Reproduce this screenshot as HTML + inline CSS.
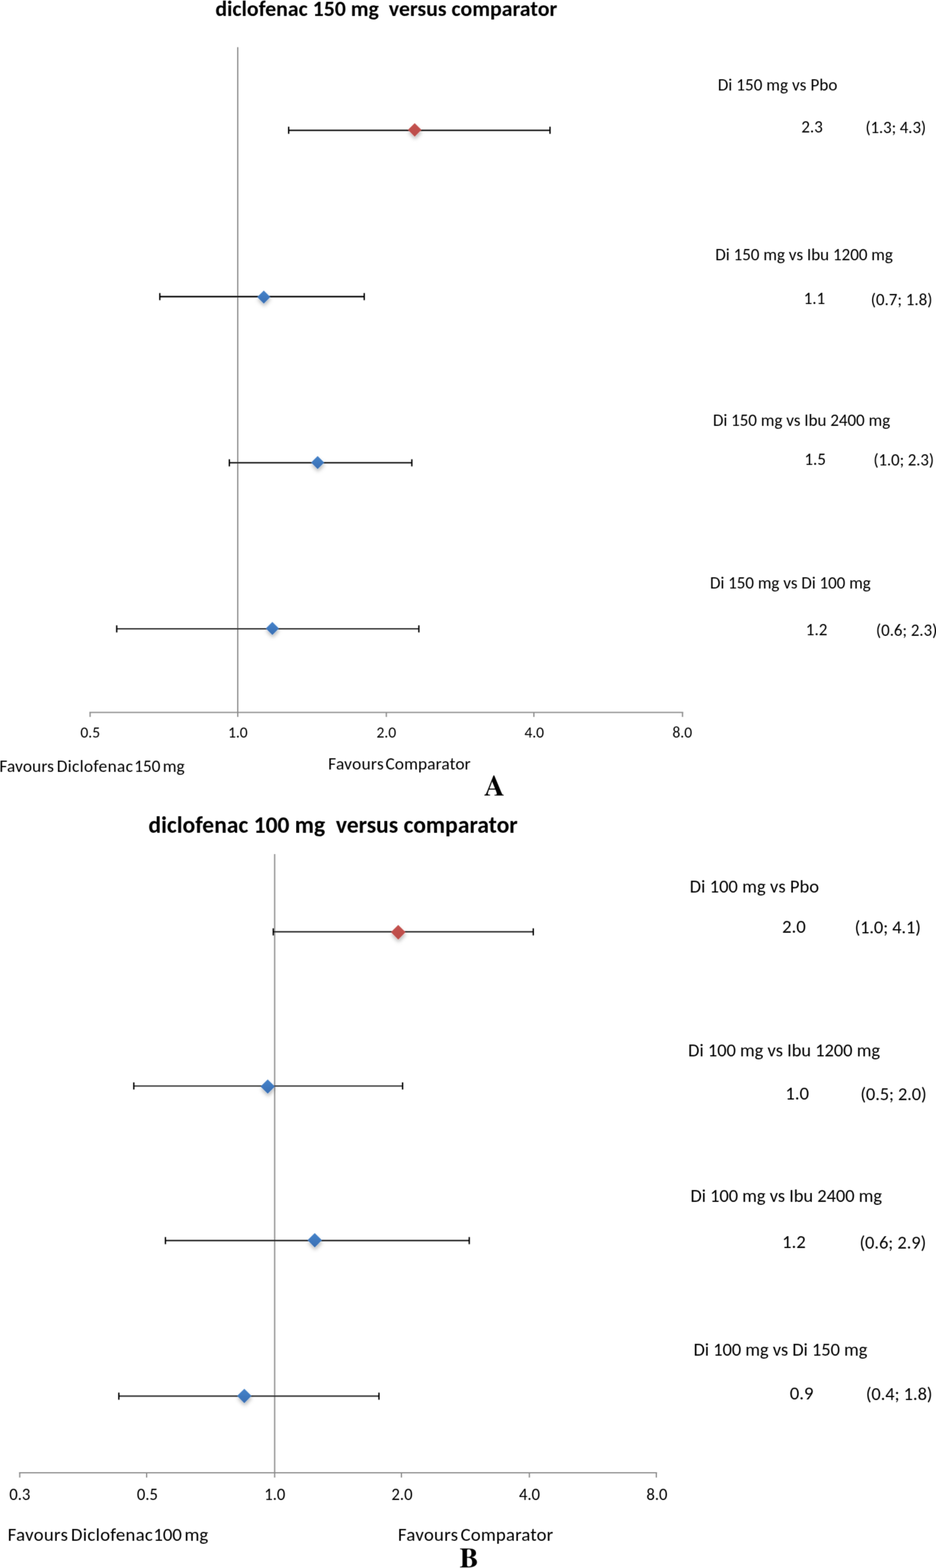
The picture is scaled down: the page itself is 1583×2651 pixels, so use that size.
<!DOCTYPE html>
<html><head><meta charset="utf-8"><title>Diclofenac forest plots</title>
<style>
html,body{margin:0;padding:0;background:#fff}
body{width:1583px;height:2651px;overflow:hidden;position:relative}
svg{display:block;position:absolute;left:0;top:0}
text{font-family:Carlito, "Liberation Sans", sans-serif;fill:#000}
.ttl{font-weight:bold}
.lab{font-family:"TeX Gyre Termes", "Liberation Serif", "Times New Roman", serif;font-weight:bold}
.ax{stroke:#8c8c8c;stroke-width:2.1}
.eb{stroke-width:2.3;fill:none}
.cap{stroke:#000;stroke-width:2.3;fill:none}
</style></head><body>
<svg width="1583" height="2651" viewBox="0 0 1583 2651">
<defs><filter id="soft" x="0" y="0" width="1583" height="2651" filterUnits="userSpaceOnUse"><feConvolveMatrix order="3" kernelMatrix="0.0225 0.105 0.0225 0.105 0.49 0.105 0.0225 0.105 0.0225" edgeMode="duplicate"/></filter><linearGradient id="gb" x1="0" y1="0" x2="0" y2="1"><stop offset="0" stop-color="#4683ca"/><stop offset="1" stop-color="#386eb3"/></linearGradient><linearGradient id="gr" x1="0" y1="0" x2="0" y2="1"><stop offset="0" stop-color="#c4524f"/><stop offset="1" stop-color="#bb4c49"/></linearGradient><filter id="sh" x="-60%" y="-60%" width="220%" height="240%"><feDropShadow dx="0.6" dy="4.4" stdDeviation="3" flood-color="#000" flood-opacity="0.27"/></filter></defs>
<rect width="1583" height="2651" fill="#fff"/>
<g filter="url(#soft)">
<line x1="402.1" y1="79.7" x2="402.1" y2="1204.5" class="ax"/>
<line x1="151.20000000000002" y1="1204.5" x2="1155.5" y2="1204.5" class="ax"/>
<line x1="152.4" y1="1204.5" x2="152.4" y2="1212.1" class="ax"/>
<line x1="402.1" y1="1204.5" x2="402.1" y2="1212.1" class="ax"/>
<line x1="653.4" y1="1204.5" x2="653.4" y2="1212.1" class="ax"/>
<line x1="902.9" y1="1204.5" x2="902.9" y2="1212.1" class="ax"/>
<line x1="1154.3" y1="1204.5" x2="1154.3" y2="1212.1" class="ax"/>
<path class="eb" stroke="#000" d="M488.2 220.3H930.2"/>
<path class="cap" d="M488.2 214.3V226.3M930.2 214.3V226.3"/>
<path class="eb" stroke="#000" d="M270.3 501.5H616.0"/>
<path class="cap" d="M270.3 495.5V507.5M616.0 495.5V507.5"/>
<path class="eb" stroke="#080808" d="M387.9 782.45H696.5"/>
<path class="cap" d="M387.9 776.45V788.45M696.5 776.45V788.45"/>
<path class="eb" stroke="#2a2a2a" d="M197.4 1063.2H708.4"/>
<path class="cap" d="M197.4 1057.2V1069.2M708.4 1057.2V1069.2"/>
<path d="M701.35 208.25L712.7 219.6L701.35 230.95L690.0 219.6Z" fill="url(#gr)" filter="url(#sh)"/>
<path d="M446.1 491.25L457.1 502.25L446.1 513.25L435.1 502.25Z" fill="url(#gb)" filter="url(#sh)"/>
<path d="M537.2 771.0L548.2 782.0L537.2 793.0L526.2 782.0Z" fill="url(#gb)" filter="url(#sh)"/>
<path d="M460.6 1051.6L471.6 1062.6L460.6 1073.6L449.6 1062.6Z" fill="url(#gb)" filter="url(#sh)"/>
<line x1="464.5" y1="1443.9" x2="464.5" y2="2490.0" class="ax"/>
<line x1="32.199999999999996" y1="2490.0" x2="1111.2" y2="2490.0" class="ax"/>
<line x1="33.4" y1="2490.0" x2="33.4" y2="2498.1" class="ax"/>
<line x1="248.0" y1="2490.0" x2="248.0" y2="2498.1" class="ax"/>
<line x1="464.5" y1="2490.0" x2="464.5" y2="2498.1" class="ax"/>
<line x1="678.9" y1="2490.0" x2="678.9" y2="2498.1" class="ax"/>
<line x1="895.3" y1="2490.0" x2="895.3" y2="2498.1" class="ax"/>
<line x1="1110.0" y1="2490.0" x2="1110.0" y2="2498.1" class="ax"/>
<path class="eb" stroke="#1a1a1a" d="M462.2 1575.4H901.9"/>
<path class="cap" d="M462.2 1569.4V1581.4M901.9 1569.4V1581.4"/>
<path class="eb" stroke="#383838" d="M226.3 1836.05H680.9"/>
<path class="cap" d="M226.3 1830.05V1842.05M680.9 1830.05V1842.05"/>
<path class="eb" stroke="#0c0c0c" d="M279.8 2097.4H793.6"/>
<path class="cap" d="M279.8 2091.4V2103.4M793.6 2091.4V2103.4"/>
<path class="eb" stroke="#202020" d="M201.0 2360.4H640.9"/>
<path class="cap" d="M201.0 2354.4V2366.4M640.9 2354.4V2366.4"/>
<path d="M673.5 1563.8L685.8 1576.1L673.5 1588.3999999999999L661.2 1576.1Z" fill="url(#gr)" filter="url(#sh)"/>
<path d="M452.8 1824.9L464.90000000000003 1837.0L452.8 1849.1L440.7 1837.0Z" fill="url(#gb)" filter="url(#sh)"/>
<path d="M532.3 2084.7000000000003L544.4 2096.8L532.3 2108.9L520.1999999999999 2096.8Z" fill="url(#gb)" filter="url(#sh)"/>
<path d="M413.2 2348.0L425.3 2360.1L413.2 2372.2L401.09999999999997 2360.1Z" fill="url(#gb)" filter="url(#sh)"/>
<text x="364.15" y="26.8" font-size="36.936" textLength="578.25" lengthAdjust="spacingAndGlyphs" class="ttl" xml:space="preserve">diclofenac 150 mg  versus comparator</text>
<text x="1213.99" y="153.2" font-size="28.800" letter-spacing="0.140" textLength="202.30" lengthAdjust="spacingAndGlyphs">Di 150 mg vs Pbo</text>
<text x="1355.26" y="223.8" font-size="28.700" textLength="36.33" lengthAdjust="spacingAndGlyphs">2.3</text>
<text x="1463.63" y="225.1" font-size="28.500" letter-spacing="-0.111" textLength="102.42" lengthAdjust="spacingAndGlyphs">(1.3; 4.3)</text>
<text x="1209.82" y="439.5" font-size="28.800" textLength="300.34" lengthAdjust="spacingAndGlyphs">Di 150 mg vs Ibu 1200 mg</text>
<text x="1359.14" y="514.4" font-size="28.700" textLength="36.33" lengthAdjust="spacingAndGlyphs">1.1</text>
<text x="1472.82" y="515.7" font-size="28.500" letter-spacing="0.067" textLength="104.20" lengthAdjust="spacingAndGlyphs">(0.7; 1.8)</text>
<text x="1205.72" y="719.8" font-size="28.800" letter-spacing="-0.026" textLength="299.72" lengthAdjust="spacingAndGlyphs">Di 150 mg vs Ibu 2400 mg</text>
<text x="1360.45" y="786.1" font-size="28.700" textLength="36.33" lengthAdjust="spacingAndGlyphs">1.5</text>
<text x="1477.24" y="787.4" font-size="28.500" letter-spacing="-0.133" textLength="102.20" lengthAdjust="spacingAndGlyphs">(1.0; 2.3)</text>
<text x="1200.72" y="995.2" font-size="28.800" letter-spacing="-0.029" textLength="271.91" lengthAdjust="spacingAndGlyphs">Di 150 mg vs Di 100 mg</text>
<text x="1362.85" y="1074.1" font-size="28.700" textLength="36.33" lengthAdjust="spacingAndGlyphs">1.2</text>
<text x="1481.60" y="1075.4" font-size="28.500" textLength="103.53" lengthAdjust="spacingAndGlyphs">(0.6; 2.3)</text>
<text x="-1.00" y="1304.9" font-size="29.200" letter-spacing="0.233" textLength="92.50" lengthAdjust="spacingAndGlyphs">Favours</text>
<text x="96.00" y="1304.9" font-size="29.200" letter-spacing="0.589" textLength="129.34" lengthAdjust="spacingAndGlyphs">Diclofenac</text>
<text x="227.00" y="1304.9" font-size="29.200" textLength="44.39" lengthAdjust="spacingAndGlyphs">150</text>
<text x="275.25" y="1304.9" font-size="29.200" textLength="37.06" lengthAdjust="spacingAndGlyphs">mg</text>
<text x="555.00" y="1300.6" font-size="29.200" letter-spacing="0.500" textLength="94.36" lengthAdjust="spacingAndGlyphs">Favours</text>
<text x="652.00" y="1300.6" font-size="29.200" letter-spacing="0.222" textLength="144.16" lengthAdjust="spacingAndGlyphs">Comparator</text>
<text x="818.85" y="1344.6" font-size="48.200" textLength="34.80" lengthAdjust="spacingAndGlyphs" class="lab">A</text>
<text x="251.05" y="1407.8" font-size="39.885" textLength="624.50" lengthAdjust="spacingAndGlyphs" class="ttl" xml:space="preserve">diclofenac 100 mg  versus comparator</text>
<text x="1166.38" y="1508.9" font-size="31.100" letter-spacing="0.187" textLength="219.00" lengthAdjust="spacingAndGlyphs">Di 100 mg vs Pbo</text>
<text x="1322.87" y="1577.1" font-size="31.500" textLength="39.89" lengthAdjust="spacingAndGlyphs">2.0</text>
<text x="1445.40" y="1578.4" font-size="31.000" letter-spacing="-0.078" textLength="111.83" lengthAdjust="spacingAndGlyphs">(1.0; 4.1)</text>
<text x="1163.80" y="1785.8" font-size="31.100" letter-spacing="0.013" textLength="324.61" lengthAdjust="spacingAndGlyphs">Di 100 mg vs Ibu 1200 mg</text>
<text x="1328.25" y="1859.0" font-size="31.500" textLength="39.89" lengthAdjust="spacingAndGlyphs">1.0</text>
<text x="1455.29" y="1860.3" font-size="31.000" letter-spacing="-0.089" textLength="111.72" lengthAdjust="spacingAndGlyphs">(0.5; 2.0)</text>
<text x="1167.70" y="2032.0" font-size="31.100" letter-spacing="-0.013" textLength="323.98" lengthAdjust="spacingAndGlyphs">Di 100 mg vs Ibu 2400 mg</text>
<text x="1322.87" y="2109.6" font-size="31.500" textLength="39.89" lengthAdjust="spacingAndGlyphs">1.2</text>
<text x="1453.68" y="2110.9" font-size="31.000" letter-spacing="0.011" textLength="112.72" lengthAdjust="spacingAndGlyphs">(0.6; 2.9)</text>
<text x="1172.90" y="2291.6" font-size="31.100" letter-spacing="-0.010" textLength="294.06" lengthAdjust="spacingAndGlyphs">Di 100 mg vs Di 150 mg</text>
<text x="1335.79" y="2365.8" font-size="31.500" textLength="39.89" lengthAdjust="spacingAndGlyphs">0.9</text>
<text x="1464.40" y="2367.1" font-size="31.000" textLength="112.61" lengthAdjust="spacingAndGlyphs">(0.4; 1.8)</text>
<text x="13.00" y="2604.9" font-size="31.600" letter-spacing="0.567" textLength="102.33" lengthAdjust="spacingAndGlyphs">Favours</text>
<text x="120.00" y="2604.9" font-size="31.600" letter-spacing="0.533" textLength="138.97" lengthAdjust="spacingAndGlyphs">Diclofenac</text>
<text x="259.50" y="2604.9" font-size="31.600" textLength="48.05" lengthAdjust="spacingAndGlyphs">100</text>
<text x="312.00" y="2604.9" font-size="31.600" textLength="40.11" lengthAdjust="spacingAndGlyphs">mg</text>
<text x="673.00" y="2605.4" font-size="31.600" letter-spacing="0.550" textLength="102.20" lengthAdjust="spacingAndGlyphs">Favours</text>
<text x="779.00" y="2605.4" font-size="31.600" letter-spacing="0.333" textLength="156.97" lengthAdjust="spacingAndGlyphs">Comparator</text>
<text x="777.33" y="2649.8" font-size="47.600" textLength="31.75" lengthAdjust="spacingAndGlyphs" class="lab">B</text>
<text x="136.00" y="1246.7" font-size="26.200" textLength="33.17" lengthAdjust="spacingAndGlyphs">0.5</text>
<text x="385.67" y="1246.7" font-size="26.200" textLength="33.17" lengthAdjust="spacingAndGlyphs">1.0</text>
<text x="636.79" y="1246.7" font-size="26.200" textLength="33.17" lengthAdjust="spacingAndGlyphs">2.0</text>
<text x="886.89" y="1246.7" font-size="26.200" textLength="33.17" lengthAdjust="spacingAndGlyphs">4.0</text>
<text x="1137.30" y="1246.7" font-size="26.200" textLength="33.17" lengthAdjust="spacingAndGlyphs">8.0</text>
<text x="15.74" y="2535.9" font-size="28.100" textLength="35.58" lengthAdjust="spacingAndGlyphs">0.3</text>
<text x="231.40" y="2535.9" font-size="28.100" textLength="35.58" lengthAdjust="spacingAndGlyphs">0.5</text>
<text x="447.04" y="2535.9" font-size="28.100" textLength="35.58" lengthAdjust="spacingAndGlyphs">1.0</text>
<text x="662.09" y="2535.9" font-size="28.100" textLength="35.58" lengthAdjust="spacingAndGlyphs">2.0</text>
<text x="877.77" y="2535.9" font-size="28.100" textLength="35.58" lengthAdjust="spacingAndGlyphs">4.0</text>
<text x="1093.27" y="2535.9" font-size="28.100" textLength="35.58" lengthAdjust="spacingAndGlyphs">8.0</text>
</g>
</svg>
</body></html>
